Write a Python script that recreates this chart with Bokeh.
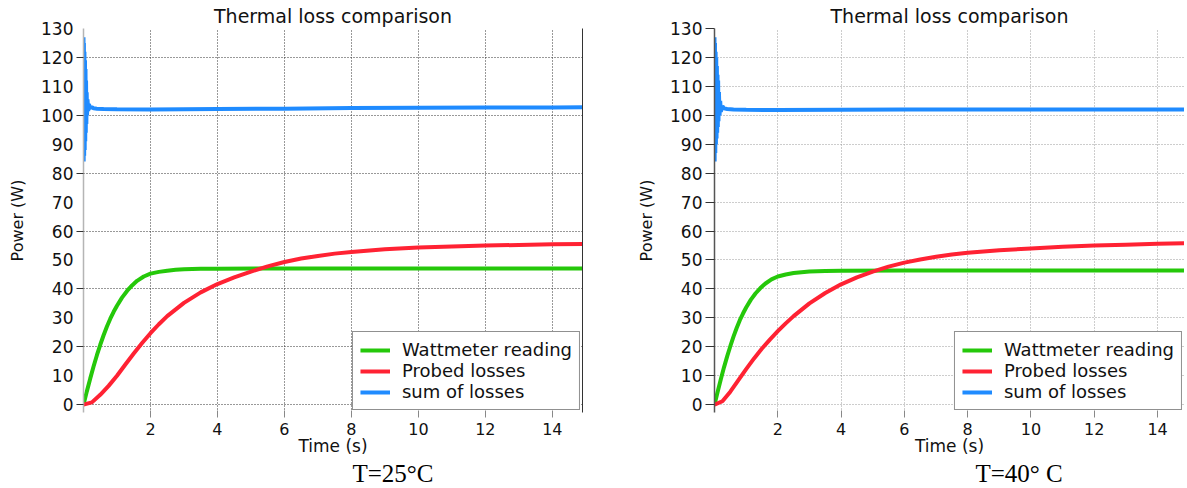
from bokeh.plotting import figure
from bokeh.layouts import row
from bokeh.models import FixedTicker, LinearAxis, Title, Range1d, Legend, LegendItem
from bokeh.embed import file_html
from bokeh.resources import INLINE

# ---------------- data ----------------
titles = ["Thermal loss comparison", "Thermal loss comparison"]
captions = ["T=25\u00b0C", "T=40\u00b0 C"]
series_names = ["Wattmeter reading", "Probed losses", "sum of losses"]
x_ticks = [2, 4, 6, 8, 10, 12, 14]
y_ticks = [0, 10, 20, 30, 40, 50, 60, 70, 80, 90, 100, 110, 120, 130]
y_major_left = [0, 20, 40, 60, 80, 100, 120]

t_watt = [0, 0.1, 0.2, 0.3, 0.4, 0.5, 0.6, 0.7, 0.8, 0.9, 1.0, 1.15, 1.3, 1.45, 1.6, 1.8,
          2.0, 2.25, 2.5, 2.75, 3.0, 3.5, 4, 6, 8, 10, 12, 15]
watt_25 = [0, 4.6, 9.0, 13.2, 17.1, 20.7, 24.0, 27.0, 29.7, 32.1, 34.2, 37.0, 39.3, 41.2, 42.8, 44.3,
           45.3, 45.9, 46.3, 46.6, 46.8, 46.95, 47, 47.1, 47.1, 47.1, 47.1, 47.1]
watt_40 = [0, 4.5, 8.8, 12.9, 16.7, 20.2, 23.5, 26.5, 29.2, 31.5, 33.6, 36.3, 38.5, 40.3, 41.8, 43.3,
           44.3, 45.0, 45.5, 45.8, 46.0, 46.2, 46.3, 46.4, 46.4, 46.4, 46.4, 46.4]

t_probe = [0, 0.25, 0.5, 0.75, 1.0, 1.25, 1.5, 1.75, 2.0, 2.25, 2.5, 3.0, 3.5, 4.0, 4.5, 5.0,
           5.5, 6.0, 6.5, 7.0, 7.5, 8, 9, 10, 11, 12, 13, 14, 15]
probed_25 = [0, 0.8, 3.4, 6.5, 10, 13.9, 17.7, 21.3, 24.7, 27.8, 30.6, 35.2, 38.8, 41.7, 44, 46,
             47.8, 49.3, 50.5, 51.4, 52.2, 52.8, 53.7, 54.3, 54.7, 55.0, 55.2, 55.4, 55.5]
probed_40 = [0, 1.2, 4.5, 8.4, 12.3, 16.0, 19.4, 22.5, 25.4, 28.1, 30.6, 35.0, 38.6, 41.6, 44.0, 46.0,
             47.7, 49.1, 50.2, 51.1, 51.9, 52.5, 53.4, 54.0, 54.6, 55.0, 55.3, 55.6, 55.8]

t_sum_25 = [0, 0.005, 0.012, 0.02, 0.028, 0.036, 0.044, 0.052, 0.06, 0.068, 0.076, 0.085, 0.095,
            0.105, 0.12, 0.14, 0.16, 0.2, 0.25, 0.3, 0.4, 0.6, 1.0, 2, 3, 4, 6, 8, 10, 12, 14, 15]
sum_25 = [127, 84, 125, 86, 122, 88, 119, 91, 116, 94, 112, 97, 108,
          100, 105.5, 101.5, 103.8, 102.6, 102.8, 102.4, 102.3, 102.2, 102.1, 102.0, 102.1, 102.2,
          102.3, 102.5, 102.6, 102.7, 102.7, 102.8]

t_sum_40 = [0, 0.005, 0.015, 0.025, 0.035, 0.045, 0.055, 0.065, 0.075, 0.085, 0.095, 0.105, 0.115,
            0.125, 0.14, 0.16, 0.18, 0.2, 0.25, 0.3, 0.4, 0.6, 1, 2, 4, 6, 8, 10, 12, 14, 15]
sum_40 = [127, 84, 125, 87, 122, 90, 120, 92, 117, 94, 114, 96, 112,
          98, 108, 100, 105, 101.2, 103.2, 102.4, 102.2, 102.0, 101.9, 101.8, 101.9, 102.0,
          102.0, 102.0, 102.0, 102.0, 102.0]

colors = ["#25c80a", "#ff2233", "#1f8bff"]
FONT = "DejaVu Sans"


def make_plot(width, border_left, border_right, x_end, grid_color, spine_color,
              title, caption, caption_offset, watt, probed, t_sum, ssum, left_style):
    p = figure(width=width, height=486, output_backend="svg", toolbar_location=None,
               x_range=Range1d(0, x_end), y_range=Range1d(-2.7, 130),
               min_border_left=border_left, min_border_right=border_right,
               min_border_top=0, min_border_bottom=0)
    p.outline_line_color = None
    p.background_fill_color = "white"
    p.border_fill_color = "white"

    p.title.text = title
    p.title.text_font = FONT
    p.title.text_font_size = "19px"
    p.title.text_font_style = "normal"
    p.title.text_color = "#111111"
    p.title.align = "center"
    p.title.standoff = 4

    r1 = p.line(t_watt, watt, line_color=colors[0], line_width=4)
    r2 = p.line(t_probe, probed, line_color=colors[1], line_width=4)
    r3 = p.line(t_sum, ssum, line_color=colors[2], line_width=4)

    # x axis
    xa = p.xaxis[0]
    xa.ticker = FixedTicker(ticks=x_ticks)
    xa.axis_line_color = None
    xa.major_tick_line_color = "#888888"
    xa.major_tick_out = 5
    xa.major_tick_in = 2
    xa.minor_tick_line_color = None
    xa.major_label_text_font = FONT
    xa.major_label_text_font_size = "16px"
    xa.major_label_text_color = "#111111"
    xa.major_label_standoff = 5
    xa.axis_label = "Time (s)"
    xa.axis_label_text_font = FONT
    xa.axis_label_text_font_size = "17px"
    xa.axis_label_text_font_style = "normal"
    xa.axis_label_text_color = "#111111"
    xa.axis_label_standoff = -2

    # y axis
    ya = p.yaxis[0]
    if left_style:
        ya.ticker = FixedTicker(ticks=y_ticks, minor_ticks=y_major_left)
        ya.major_tick_out = 0
        ya.major_tick_in = 0
        ya.minor_tick_out = 7
        ya.minor_tick_in = 0
        ya.minor_tick_line_color = "#333333"
        p.ygrid.ticker = FixedTicker(ticks=y_major_left)
    else:
        ya.ticker = FixedTicker(ticks=y_ticks)
        ya.major_tick_out = 9
        ya.major_tick_in = 0
        ya.minor_tick_line_color = None
        p.ygrid.ticker = FixedTicker(ticks=y_ticks[:-1])
    ya.major_tick_line_color = "#333333"
    ya.axis_line_color = spine_color
    ya.axis_line_width = 1.5
    ya.major_label_text_font = FONT
    ya.major_label_text_font_size = "17px"
    ya.major_label_text_color = "#111111"
    ya.major_label_standoff = 3
    ya.axis_label = "Power (W)"
    ya.axis_label_text_font = FONT
    ya.axis_label_text_font_size = "16px"
    ya.axis_label_text_font_style = "normal"
    ya.axis_label_text_color = "#111111"
    ya.axis_label_standoff = 11

    p.xgrid.ticker = FixedTicker(ticks=x_ticks)
    for g in (p.xgrid, p.ygrid):
        g.grid_line_color = grid_color
        g.grid_line_dash = "1 2"
        g.grid_line_width = 1

    if left_style:
        ra = LinearAxis(ticker=FixedTicker(ticks=[]), axis_line_color="#333333",
                        major_label_text_font_size="0px", major_tick_out=0, major_tick_in=0,
                        minor_tick_out=0, minor_tick_in=0, axis_label=None)
        p.add_layout(ra, "right")

    legend = Legend(items=[LegendItem(label=series_names[0], renderers=[r1]),
                           LegendItem(label=series_names[1], renderers=[r2]),
                           LegendItem(label=series_names[2], renderers=[r3])],
                    location="bottom_right", margin=2, padding=7, spacing=0,
                    label_height=20, glyph_height=20, glyph_width=30, label_standoff=12,
                    label_text_font=FONT, label_text_font_size="18px",
                    label_text_color="#111111",
                    border_line_color="#222222", border_line_width=1,
                    background_fill_color="white", background_fill_alpha=1)
    p.add_layout(legend, "center")

    cap = Title(text=caption, align="left", offset=caption_offset,
                text_font="Liberation Serif", text_font_size="25px",
                text_font_style="normal", text_color="#000000", standoff=-1)
    p.add_layout(cap, "below")
    return p


p1 = make_plot(600, 83, 18, 14.9, "#333333", "#b5b5b5", titles[0], captions[0], 269,
               watt_25, probed_25, t_sum_25, sum_25, True)
p2 = make_plot(584, 114, 0, 14.85, "#9a9a9a", "#555555", titles[1], captions[1], 261,
               watt_40, probed_40, t_sum_40, sum_40, False)

layout = row(p1, p2)
open("out.html", "w").write(file_html(layout, INLINE))
